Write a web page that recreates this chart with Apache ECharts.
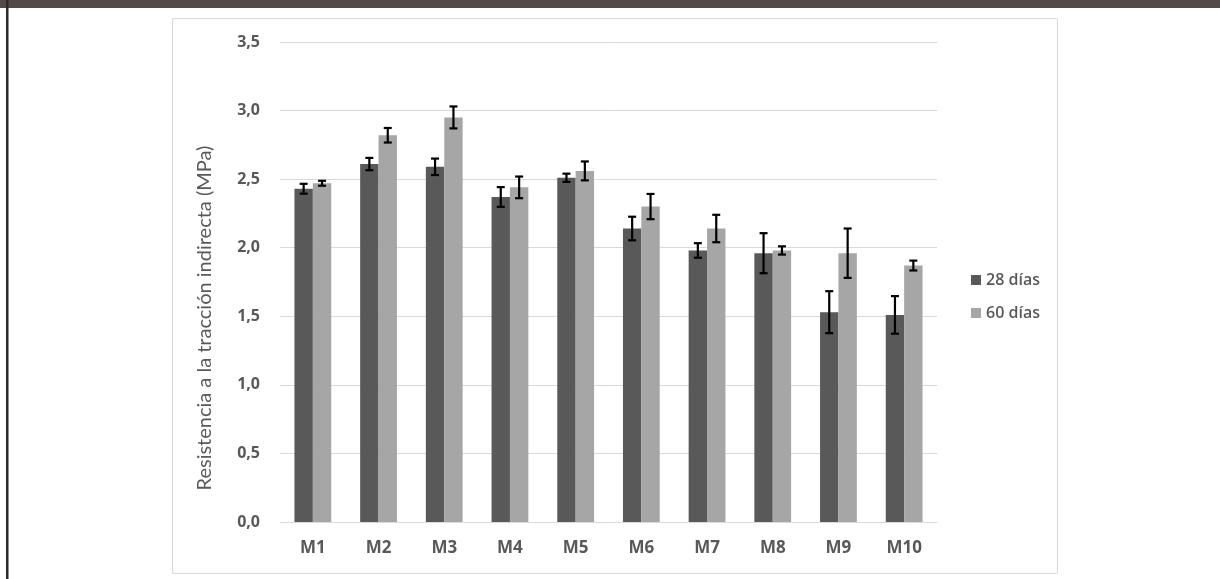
<!DOCTYPE html>
<html>
<head>
<meta charset="utf-8">
<script src="https://cdn.jsdelivr.net/npm/echarts@6/dist/echarts.min.js"></script>
<style>
  html, body { margin: 0; padding: 0; background: #ffffff; }
  #chart { width: 1220px; height: 579px; }
</style>
</head>
<body>
<div id="chart"></div>
<script>
// Mezclas ensayadas
var categories = ['M1', 'M2', 'M3', 'M4', 'M5', 'M6', 'M7', 'M8', 'M9', 'M10'];

// Resistencia media (MPa) a 28 y 60 días
var values28 = [2.43, 2.61, 2.59, 2.37, 2.51, 2.14, 1.98, 1.96, 1.53, 1.51];
var values60 = [2.47, 2.82, 2.95, 2.44, 2.56, 2.30, 2.14, 1.98, 1.96, 1.87];

// Desviación (±) de cada media
var err28 = [0.036, 0.045, 0.06, 0.072, 0.03, 0.086, 0.053, 0.146, 0.153, 0.137];
var err60 = [0.018, 0.053, 0.08, 0.079, 0.069, 0.092, 0.10, 0.03, 0.18, 0.036];

var yTicks = [0, 0.5, 1, 1.5, 2, 2.5, 3, 3.5];

var seriesNames = ['28 días', '60 días'];
var yTitle = 'Resistencia a la tracción indirecta (MPa)';
var colors = ['#595959', '#a6a6a6'];
var categoryGap = 0.44;

function errorItem(seriesIndex) {
  return function (params, api) {
    var idx = api.value(0);
    var val = api.value(1);
    var err = api.value(2);
    var band = api.size([1, 0])[0];
    var barW = band * (1 - categoryGap) / 2;
    var base = api.coord([idx, val]);
    var x = base[0] + (seriesIndex === 0 ? -barW / 2 : barW / 2);
    var top = api.coord([idx, val + err])[1];
    var bot = api.coord([idx, val - err])[1];
    var cap = 4;
    var style = { stroke: '#000000', lineWidth: 2.2, fill: null };
    return {
      type: 'group',
      children: [
        { type: 'line', shape: { x1: x, y1: top, x2: x, y2: bot }, style: style },
        { type: 'line', shape: { x1: x - cap, y1: top, x2: x + cap, y2: top }, style: style },
        { type: 'line', shape: { x1: x - cap, y1: bot, x2: x + cap, y2: bot }, style: style }
      ]
    };
  };
}

function errData(vals, errs) {
  return vals.map(function (v, i) { return [i, v, errs[i]]; });
}

var chart = echarts.init(document.getElementById('chart'), null, { renderer: 'canvas' });

var tickFont = '"Open Sans", Lato, "Liberation Sans", sans-serif';
var titleFont = 'Lato, "Open Sans", sans-serif';

chart.setOption({
  animation: false,
  backgroundColor: '#ffffff',
  textStyle: { fontFamily: tickFont },
  graphic: [
    { type: 'rect', shape: { x: 0, y: 0, width: 1220, height: 8 }, style: { fill: '#534a47' }, z: 10 },
    { type: 'rect', shape: { x: 6, y: 0, width: 2.5, height: 579 }, style: { fill: '#2b2b2b' }, z: 10 },
    { type: 'rect', shape: { x: 172.5, y: 18.5, width: 885, height: 555 }, style: { fill: null, stroke: '#d9d9d9', lineWidth: 1 }, z: -1 },
    {
      type: 'text', x: 205, y: 318, rotation: Math.PI / 2,
      style: {
        text: yTitle, fill: '#595959', fontSize: 20, fontFamily: titleFont,
        align: 'center', verticalAlign: 'middle'
      }
    }
  ],
  grid: { left: 280, right: 283, top: 42, bottom: 57, containLabel: false },
  legend: {
    orient: 'vertical',
    left: 966,
    top: 267,
    itemWidth: 10,
    itemHeight: 10,
    itemGap: 17,
    icon: 'rect',
    data: seriesNames,
    textStyle: { color: '#595959', fontSize: 16, fontWeight: 600, fontFamily: tickFont }
  },
  xAxis: {
    type: 'category',
    data: categories,
    axisLine: { lineStyle: { color: '#d9d9d9', width: 1 } },
    axisTick: { show: false },
    axisLabel: { color: '#595959', fontSize: 17, fontWeight: 'bold', margin: 18, fontFamily: tickFont }
  },
  yAxis: {
    type: 'value',
    min: yTicks[0],
    max: yTicks[yTicks.length - 1],
    interval: 0.5,
    axisLine: { show: false },
    axisTick: { show: false },
    splitLine: { lineStyle: { color: '#d9d9d9', width: 1 } },
    axisLabel: {
      color: '#595959', fontSize: 16, fontWeight: 'bold', margin: 20, fontFamily: tickFont,
      formatter: function (v) { return v.toFixed(1).replace('.', ','); }
    }
  },
  series: [
    {
      name: seriesNames[0], type: 'bar', data: values28,
      itemStyle: { color: colors[0] }, barGap: '0%', barCategoryGap: (categoryGap * 100) + '%'
    },
    {
      name: seriesNames[1], type: 'bar', data: values60,
      itemStyle: { color: colors[1] }, barGap: '0%', barCategoryGap: (categoryGap * 100) + '%'
    },
    {
      type: 'custom', renderItem: errorItem(0), data: errData(values28, err28),
      encode: { x: 0, y: 1 }, z: 5, silent: true
    },
    {
      type: 'custom', renderItem: errorItem(1), data: errData(values60, err60),
      encode: { x: 0, y: 1 }, z: 5, silent: true
    }
  ]
});
</script>
</body>
</html>
